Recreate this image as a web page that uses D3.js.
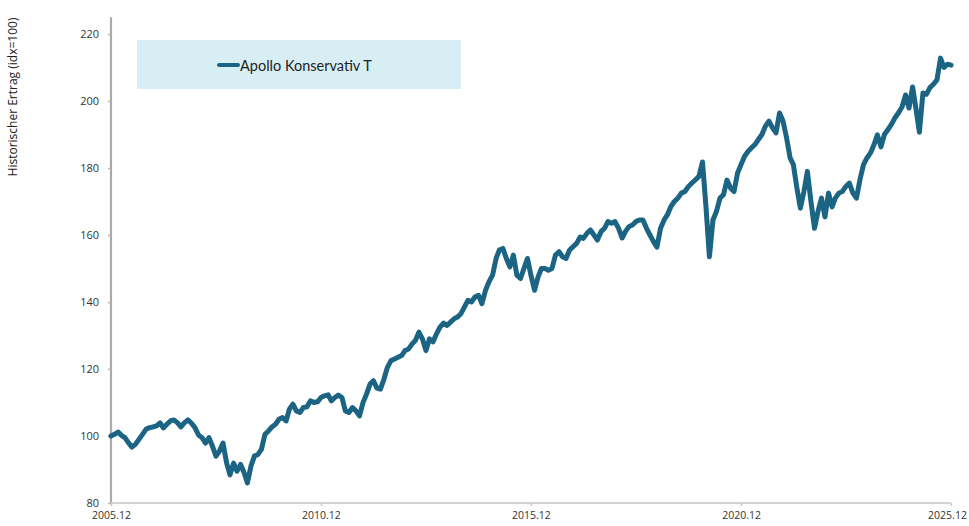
<!DOCTYPE html>
<html>
<head>
<meta charset="utf-8">
<script src="https://cdn.jsdelivr.net/npm/d3@7"></script>
<style>
  body { margin: 0; background: #fff; }
  svg { display: block; }
</style>
</head>
<body>
<div id="chart"></div>
<script>
// monthly index values, Dec 2005 .. Dec 2025 (idx = 100 at start)
var seriesName = 'Apollo Konservativ T'
  , startMonth = '2005-12'
  , yTicks = [80, 100, 120, 140, 160, 180, 200, 220]
  , xTickLabels = ['2005.12', '2010.12', '2015.12', '2020.12', '2025.12']
  , values = [
      100, 100.5, 101.2, 100.2, 99.5, 98, 96.7, 97.5, 99, 100.5,
      102, 102.5, 102.7, 103, 103.9, 102.4, 103.5, 104.5, 104.8, 104,
      102.7, 104, 104.8, 103.8, 102.5, 100.3, 99.5, 97.9, 99.5, 97,
      94, 95.5, 97.9, 92, 88.4, 91.9, 89.5, 91.5, 89, 86,
      91, 94, 94.5, 96, 100.5, 101.5, 102.7, 103.5, 105, 105.5,
      104.5, 108, 109.5, 107.5, 107, 108.5, 108.7, 110.5, 110, 110.2,
      111.5, 112, 112.3, 110.5, 111.5, 112.2, 111.5, 107.5, 107, 108.5,
      107.5, 106, 109.9, 112.5, 115.5, 116.5, 114.3, 114, 117, 120.5,
      122.5, 123, 123.5, 124, 125.5, 126, 127.5, 128.5, 131, 129,
      125.5, 129, 128.1, 130.5, 132.5, 133.7, 133, 134, 135, 135.5,
      136.5, 138.5, 140.5, 140, 141.5, 142, 139.5, 143.5, 146, 148,
      153, 155.5, 156, 153, 150.5, 154, 148, 147, 150, 153,
      148, 143.5, 147.5, 150, 150, 149.5, 150, 154, 155, 153.5,
      153, 155.5, 156.5, 157.5, 159.4, 159, 160.5, 161.5, 160, 158.5,
      161, 162, 164, 163.5, 164, 162, 159.1, 161, 162.5, 163,
      164, 164.5, 164.5, 162, 160, 158, 156.4, 162, 164.5, 166,
      168.5, 170, 171, 172.5, 173, 174.5, 175.5, 176.5, 177.5, 181.8,
      168, 153.5, 164.5, 167, 171, 172, 176.4, 174, 173, 178.5,
      181, 183.5, 185, 186, 187, 188.5, 190, 192.5, 194, 192,
      190.5, 196.4, 194, 189, 183, 181, 174, 168, 173, 179,
      170, 162, 167, 171, 165.4, 172.5, 168.4, 171, 172.5, 173,
      174.5, 175.5, 172.5, 171, 176.5, 181, 183, 184.5, 187, 189.9,
      186.3, 190, 191.5, 193, 195, 196.5, 198.2, 201.8, 197.9, 204.2,
      197.3, 190.7, 202.4, 202, 204, 205, 206.3, 212.8, 210, 211,
      210.7
    ];

var W = 969, H = 526
  , lineColor = '#1b6484'
  , parseMonth = d3.timeParse('%Y-%m')
  , fmtMonth = d3.timeFormat('%Y.%m')
  , t0 = parseMonth(startMonth)
  , data
  , x, y, svg, line, gx, gy, lg;

data = values.map(function (v, i) {
  return { date: d3.timeMonth.offset(t0, i), value: v };
});

x = d3.scaleTime()
  .domain([t0, d3.timeMonth.offset(t0, values.length - 1)])
  .range([111, 951]);

y = d3.scaleLinear()
  .domain([80, 225])
  .range([503, 17.25]);

svg = d3.select('#chart').append('svg')
  .attr('width', W)
  .attr('height', H);

// y axis
gy = svg.append('g')
  .attr('transform', 'translate(111,0)')
  .call(d3.axisLeft(y).tickValues(yTicks).tickSize(3).tickPadding(9));

gy.select('.domain')
  .attr('d', 'M0,' + y(80) + 'V' + y(225))
  .attr('stroke', '#a9a9a9')
  .attr('stroke-width', 2.2);
gy.selectAll('.tick line').attr('stroke', '#b5b5b5').attr('stroke-width', 1.5);
gy.selectAll('.tick text')
  .attr('fill', '#333')
  .style('font', '11px "Open Sans", sans-serif');

// x axis
gx = svg.append('g')
  .attr('transform', 'translate(0,503)')
  .call(d3.axisBottom(x)
    .tickValues(xTickLabels.map(function (s) { return d3.timeParse('%Y.%m')(s); }))
    .tickFormat(fmtMonth)
    .tickSize(3)
    .tickPadding(6));

gx.select('.domain')
  .attr('d', 'M' + x.range()[0] + ',0H' + x.range()[1])
  .attr('stroke', '#d3d3d3')
  .attr('stroke-width', 2.2);
gx.selectAll('.tick line').attr('stroke', '#c8c8c8').attr('stroke-width', 1.5);
gx.selectAll('.tick text')
  .attr('fill', '#333')
  .style('font', '10.5px "Open Sans", sans-serif');
// last label sits against the right edge
gx.selectAll('.tick text')
  .filter(function (d, i) { return i === xTickLabels.length - 1; })
  .attr('dx', -4);

// y title
svg.append('text')
  .attr('transform', 'translate(17,97) rotate(-90)')
  .attr('text-anchor', 'middle')
  .attr('fill', '#222')
  .style('font', '12px "Open Sans", sans-serif')
  .text('Historischer Ertrag (idx=100)');

// legend
lg = svg.append('g');
lg.append('rect')
  .attr('x', 137).attr('y', 40)
  .attr('width', 324).attr('height', 49)
  .attr('fill', '#d7eef5');
lg.append('line')
  .attr('x1', 219).attr('x2', 238)
  .attr('y1', 65).attr('y2', 65)
  .attr('stroke', lineColor)
  .attr('stroke-width', 4)
  .attr('stroke-linecap', 'round');
lg.append('text')
  .attr('x', 240).attr('y', 70.5)
  .attr('fill', '#222')
  .style('font', '14.5px Lato, sans-serif')
  .text(seriesName);

// the series
line = d3.line()
  .x(function (d) { return x(d.date); })
  .y(function (d) { return y(d.value); });

svg.append('path')
  .datum(data)
  .attr('d', line)
  .attr('fill', 'none')
  .attr('stroke', lineColor)
  .attr('stroke-width', 5)
  .attr('stroke-linejoin', 'round')
  .attr('stroke-linecap', 'round');
</script>
</body>
</html>
